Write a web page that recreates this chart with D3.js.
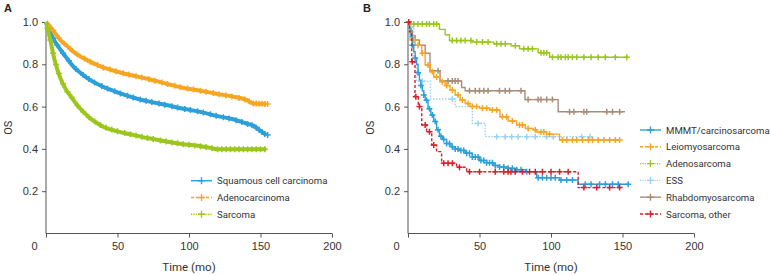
<!DOCTYPE html>
<html>
<head>
<meta charset="utf-8">
<script src="https://cdn.jsdelivr.net/npm/d3@7"></script>
<style>
  html, body { margin: 0; padding: 0; background: #fff; }
  svg { display: block; }
  .tick text { font-family: "Liberation Sans", Arial, sans-serif; font-size: 11px; fill: #333; }
  .lab { font-family: Roboto, "Noto Sans", sans-serif; fill: #333; }
</style>
</head>
<body>
<svg id="chart" width="771" height="275"></svg>
<script>
// ---------- Data ----------
const xTicks = [0, 50, 100, 150, 200];
const yTicks = [0.2, 0.4, 0.6, 0.8, 1.0];

// Panel A
const seriesA = ["Squamous cell carcinoma", "Adenocarcinoma", "Sarcoma"];
const squamousT = [0, 3, 6, 10, 15, 19, 25, 31, 38, 45, 55, 65, 75, 85, 96, 108, 120, 131, 140, 145, 150, 154];
const squamousS = [1.0, 0.95, 0.91, 0.87, 0.825, 0.79, 0.755, 0.725, 0.70, 0.68, 0.655, 0.635, 0.62, 0.606, 0.59, 0.575, 0.555, 0.54, 0.52, 0.51, 0.485, 0.466];
const adenoT = [0, 5, 10, 15, 20, 30, 40, 50, 60, 70, 85, 95, 108, 120, 131, 140, 145, 154];
const adenoS = [1.0, 0.96, 0.915, 0.885, 0.855, 0.815, 0.785, 0.765, 0.748, 0.733, 0.707, 0.69, 0.675, 0.66, 0.647, 0.632, 0.615, 0.612];
const sarcomaT = [0, 1, 3, 6, 10, 14, 17, 22, 26, 30, 35, 40, 50, 61, 72, 84, 95, 108, 115, 120, 154];
const sarcomaS = [1.0, 0.97, 0.915, 0.82, 0.735, 0.68, 0.652, 0.605, 0.576, 0.55, 0.525, 0.505, 0.483, 0.466, 0.45, 0.435, 0.423, 0.413, 0.405, 0.398, 0.398];
const squamousCens = [2, 5, 8, 12, 16, 21, 26, 30, 34, 39, 43, 48, 52, 57, 61, 66, 70, 74, 79, 83, 88, 92, 97, 101, 106, 110, 115, 119, 124, 128, 133, 137, 141, 144, 147, 149, 151, 153, 155];
const adenoCens = [2, 5, 9, 13, 17, 22, 27, 31, 36, 40, 45, 49, 54, 58, 63, 67, 72, 76, 81, 85, 90, 94, 99, 103, 108, 112, 117, 121, 126, 130, 135, 139, 142, 145, 147, 149, 151, 153, 155];
const sarcomaCens = [1, 3, 5, 7, 9, 12, 15, 18, 22, 26, 30, 34, 38, 42, 46, 50, 55, 59, 63, 67, 71, 75, 80, 84, 88, 92, 96, 100, 104, 108, 112, 116, 120, 123, 126, 129, 132, 135, 138, 141, 144, 147, 150, 153];

// Panel B
const seriesB = ["MMMT/carcinosarcoma", "Leiomyosarcoma", "Adenosarcoma", "ESS", "Rhabdomyosarcoma", "Sarcoma, other"];
const mmmtT = [0, 1, 2, 3, 4, 5, 6, 7, 8, 9, 10, 11, 12, 14, 16, 18, 20, 22, 24, 27, 30, 33, 36, 40, 45, 50, 55, 60, 64, 70, 76, 82, 90, 106, 119, 154];
const mmmtS = [1, 0.97, 0.93, 0.89, 0.86, 0.83, 0.80, 0.76, 0.725, 0.70, 0.675, 0.655, 0.63, 0.59, 0.56, 0.53, 0.49, 0.46, 0.445, 0.425, 0.41, 0.40, 0.393, 0.38, 0.362, 0.345, 0.335, 0.322, 0.315, 0.308, 0.302, 0.292, 0.264, 0.253, 0.233, 0.233];
const mmmtCens = [3, 5, 7, 9, 11, 13, 15, 17, 19, 21, 23, 25, 27, 29, 31, 33, 35, 37, 39, 41, 43, 45, 47, 49, 51, 53, 55, 57, 59, 61, 64, 67, 70, 73, 76, 79, 83, 91, 94, 97, 100, 103, 107, 111, 115, 124, 128, 134, 138, 143, 147, 154];
const leioT = [0, 1.4, 5, 9.6, 12, 15.4, 18, 22.4, 26, 29.4, 33, 36.4, 40, 43.4, 50, 57.3, 64.3, 70, 76, 82, 87.6, 90, 97, 106, 148];
const leioS = [1, 0.915, 0.89, 0.852, 0.797, 0.765, 0.74, 0.718, 0.70, 0.678, 0.655, 0.631, 0.615, 0.60, 0.592, 0.584, 0.552, 0.532, 0.513, 0.497, 0.49, 0.48, 0.47, 0.442, 0.442];
const leioCens = [4, 7, 10, 14, 17, 20, 24, 27, 31, 35, 38, 42, 45, 48, 52, 55, 59, 62, 66, 69, 73, 78, 80, 84, 89, 93, 95, 99, 108, 111, 115, 118, 122, 126, 129, 133, 137, 141, 145, 148];
const adenosT = [0, 2, 22, 26, 29, 45, 60, 72, 78, 91, 99, 154];
const adenosS = [1, 0.99, 0.965, 0.94, 0.912, 0.905, 0.897, 0.888, 0.873, 0.855, 0.833, 0.833];
const adenosCens = [4, 7, 10, 13, 15, 18, 20, 31, 34, 37, 40, 44, 48, 52, 56, 62, 65, 68, 75, 81, 84, 87, 93, 95, 97, 101, 105, 107, 110, 112, 115, 118, 123, 128, 133, 138, 145, 153];
const essT = [0, 0.5, 4, 6, 15.7, 33, 45, 54, 128.5];
const essS = [1, 0.975, 0.83, 0.72, 0.636, 0.60, 0.52, 0.458, 0.458];
const essCens = [2, 10, 31, 49, 62, 68, 72.5, 77, 83, 89, 97, 101.6, 121.5, 127.3];
const rhabT = [0, 1.4, 3, 5, 8, 12, 15.4, 22.4, 37.5, 40, 81.8, 105, 151.7];
const rhabS = [1, 0.96, 0.935, 0.915, 0.89, 0.852, 0.77, 0.721, 0.69, 0.675, 0.633, 0.576, 0.576];
const rhabCens = [21, 28, 31, 33, 35, 43, 47, 50, 53, 56, 64, 68, 71, 79, 84, 91, 93, 97, 101, 113, 116, 123, 125, 139, 143, 148];
const otherT = [0, 1, 2.6, 4.9, 7.2, 9.6, 13, 16.6, 20, 23.5, 34, 41, 119, 148];
const otherS = [1, 0.954, 0.812, 0.647, 0.60, 0.513, 0.481, 0.418, 0.387, 0.332, 0.313, 0.292, 0.217, 0.217];
const otherCens = [0.5, 3, 5.5, 8, 12, 15, 18, 25, 28, 31, 36, 43, 50, 61, 67, 70, 72, 75, 80, 85, 89, 94, 100, 106, 112, 123, 132, 141, 148];

// ---------- Styles ----------
const colors = {
  blue: "#2d9fd9", orange: "#f5a623", green: "#9cc61d",
  lightblue: "#9dd3f2", brown: "#a88d79", red: "#d91f2b"
};

const svg = d3.select("#chart");

function interpLinear(ts, ss, t) {
  if (t <= ts[0]) return ss[0];
  for (let i = 1; i < ts.length; i++) {
    if (t <= ts[i]) {
      const f = (t - ts[i - 1]) / (ts[i] - ts[i - 1]);
      return ss[i - 1] + f * (ss[i] - ss[i - 1]);
    }
  }
  return ss[ss.length - 1];
}
function stepVal(ts, ss, t) {
  let v = ss[0];
  for (let i = 0; i < ts.length; i++) { if (ts[i] <= t) v = ss[i]; }
  return v;
}

function plus(g, cx, cy, color, size, w) {
  g.append("path")
    .attr("d", `M${cx - size},${cy}H${cx + size}M${cx},${cy - size}V${cy + size}`)
    .attr("stroke", color).attr("stroke-width", w).attr("fill", "none");
}

function panel(x0, label, labelX) {
  const x = d3.scaleLinear().domain([0, 200]).range([x0, x0 + 286]);
  const y = d3.scaleLinear().domain([0, 1]).range([233.5, 22]);
  const g = svg.append("g");

  const ax = g.append("g").attr("transform", `translate(0,${y(0)})`)
    .call(d3.axisBottom(x).tickValues(xTicks).tickSize(4).tickSizeOuter(0).tickPadding(5).tickFormat(d3.format("d")));
  ax.selectAll(".tick text").filter(d => d === 0).attr("dx", -12);
  const ay = g.append("g").attr("transform", `translate(${x(0)},0)`)
    .call(d3.axisLeft(y).tickValues(yTicks).tickSize(4).tickSizeOuter(0).tickPadding(4).tickFormat(d3.format(".1f")));
  [ax, ay].forEach(a => {
    a.select(".domain").attr("stroke", "#555");
    a.selectAll(".tick line").attr("stroke", "#555");
  });
  ay.select(".domain").attr("d", `M0,${y(0)}V${y(1)}`);
  ax.select(".domain").attr("d", `M${x(0)},0H${x(200)}`);

  g.append("text").attr("class", "lab")
    .attr("x", x(100)).attr("y", 271).attr("text-anchor", "middle")
    .attr("font-size", 11.5).text("Time (mo)");
  g.append("text").attr("class", "lab")
    .attr("transform", `translate(${x0 - 34},${y(0.5)}) rotate(-90)`)
    .attr("text-anchor", "middle").attr("font-size", 11).text("OS");
  g.append("text")
    .attr("x", labelX).attr("y", 12)
    .attr("font-family", "Liberation Sans, Arial, sans-serif")
    .attr("font-weight", "bold").attr("font-size", 11).attr("fill", "#222").text(label);
  return { g, x, y };
}

function legend(g, items, lx, ly0, dy) {
  items.forEach((it, i) => {
    const yy = ly0 + i * dy;
    g.append("line").attr("x1", lx).attr("x2", lx + 21).attr("y1", yy).attr("y2", yy)
      .attr("stroke", it.color).attr("stroke-width", 1.4)
      .attr("stroke-dasharray", it.dash || null);
    plus(g, lx + 10.5, yy, it.color, 3.5, 1.4);
    g.append("text").attr("class", "lab").attr("x", lx + 26).attr("y", yy + 3.6)
      .attr("font-size", 9.6).text(it.name);
  });
}

// ---------- Panel A ----------
const A = panel(46, "A", 4);
const curvesA = [
  { t: squamousT, s: squamousS, c: squamousCens, color: colors.blue },
  { t: adenoT, s: adenoS, c: adenoCens, color: colors.orange },
  { t: sarcomaT, s: sarcomaS, c: sarcomaCens, color: colors.green }
];
curvesA.forEach(cv => {
  const pts = cv.t.map((t, i) => [t, cv.s[i]]);
  A.g.append("path").datum(pts)
    .attr("d", d3.line().x(d => A.x(d[0])).y(d => A.y(d[1])).curve(d3.curveMonotoneX))
    .attr("fill", "none").attr("stroke", cv.color).attr("stroke-width", 4);
  cv.c.forEach(t => plus(A.g, A.x(t), A.y(interpLinear(cv.t, cv.s, t)), cv.color, 3, 1.5));
});
legend(A.g, [
  { name: seriesA[0], color: colors.blue },
  { name: seriesA[1], color: colors.orange, dash: "3,2" },
  { name: seriesA[2], color: colors.green, dash: "1.2,1.2" }
], 191, 180.7, 16.8);

// ---------- Panel B ----------
const B = panel(408, "B", 363);
const curvesB = [
  { t: adenosT, s: adenosS, c: adenosCens, color: colors.green, dash: null },
  { t: rhabT, s: rhabS, c: rhabCens, color: colors.brown, dash: null },
  { t: essT, s: essS, c: essCens, color: colors.lightblue, dash: "1.5,1.5" },
  { t: leioT, s: leioS, c: leioCens, color: colors.orange, dash: null },
  { t: mmmtT, s: mmmtS, c: mmmtCens, color: colors.blue, dash: null },
  { t: otherT, s: otherS, c: otherCens, color: colors.red, dash: "3,2" }
];
curvesB.forEach(cv => {
  const pts = cv.t.map((t, i) => [t, cv.s[i]]);
  B.g.append("path").datum(pts)
    .attr("d", d3.line().x(d => B.x(d[0])).y(d => B.y(d[1])).curve(d3.curveStepAfter))
    .attr("fill", "none").attr("stroke", cv.color).attr("stroke-width", 1.4)
    .attr("stroke-dasharray", cv.dash);
  cv.c.forEach(t => plus(B.g, B.x(t), B.y(stepVal(cv.t, cv.s, t)), cv.color, 3, 1.5));
});
legend(B.g, [
  { name: seriesB[0], color: colors.blue },
  { name: seriesB[1], color: colors.orange, dash: "3,2" },
  { name: seriesB[2], color: colors.green, dash: "1.2,1.2" },
  { name: seriesB[3], color: colors.lightblue, dash: "1.2,1.2" },
  { name: seriesB[4], color: colors.brown },
  { name: seriesB[5], color: colors.red, dash: "3,2" }
], 640, 130, 16.8);
</script>
</body>
</html>
